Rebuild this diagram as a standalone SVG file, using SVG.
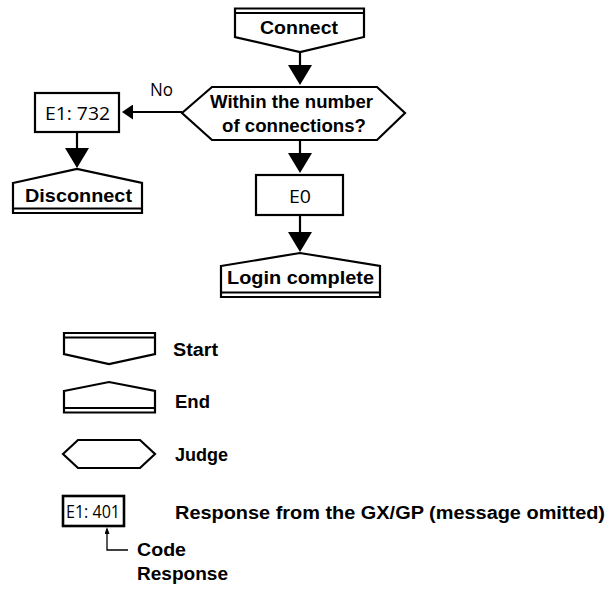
<svg xmlns="http://www.w3.org/2000/svg" width="609" height="592" viewBox="0 0 609 592">
  <defs>
    <style>
      .shape { fill: #fff; stroke: #000; stroke-width: 2.2; stroke-linejoin: miter; }
      .rule { fill: none; stroke: #000; stroke-width: 2; }
      .conn { fill: none; stroke: #000; stroke-width: 2.2; }
      .thin { fill: none; stroke: #000; stroke-width: 1.3; }
      .lbl { font-family: "Liberation Sans", Arial, sans-serif; font-weight: bold; font-size: 18px; fill: #000; }
      .code { font-family: "Open Sans", "Noto Sans", sans-serif; font-size: 18.5px; fill: #000; }
      .mid { text-anchor: middle; }
    </style>
    <marker id="head" markerUnits="userSpaceOnUse" viewBox="0 0 20 24" markerWidth="20" markerHeight="24" refX="0" refY="12" orient="auto">
      <path d="M0,0 L20,12 L0,24 Z" fill="#000"/>
    </marker>
    <marker id="headSide" markerUnits="userSpaceOnUse" viewBox="0 0 11 15" markerWidth="11" markerHeight="15" refX="0" refY="7.5" orient="auto">
      <path d="M0,0 L11,7.5 L0,15 Z" fill="#000"/>
    </marker>
    <marker id="headTiny" markerUnits="userSpaceOnUse" viewBox="0 0 7 5" markerWidth="7" markerHeight="5" refX="0" refY="2.5" orient="auto">
      <path d="M0,0 L7,2.5 L0,5 Z" fill="#000"/>
    </marker>
  </defs>

  <rect width="609" height="592" fill="#fff"/>

  <!-- connectors -->
  <g id="connectors">
    <path class="conn" d="M300,52 V65" marker-end="url(#head)"/>
    <path class="conn" d="M300,140 V153" marker-end="url(#head)"/>
    <path class="conn" d="M300,215 V232" marker-end="url(#head)"/>
    <path class="conn" d="M182,112 H133" marker-end="url(#headSide)"/>
    <path class="conn" d="M77,132 V148" marker-end="url(#head)"/>
    <path class="thin" d="M128,550 H107 V534" marker-end="url(#headTiny)"/>
    <text class="code" x="150" y="96" font-size="18" textLength="23" lengthAdjust="spacingAndGlyphs">No</text>
  </g>

  <!-- start: Connect -->
  <g id="connect">
    <path class="shape" d="M235,8.5 H364 V37 L300,52 L235,37 Z"/>
    <path class="rule" d="M235,13 H364"/>
    <text class="lbl mid" x="299" y="34" textLength="78" lengthAdjust="spacingAndGlyphs">Connect</text>
  </g>

  <!-- judge: connection count -->
  <g id="judge-connections">
    <path class="shape" d="M182,113 L212,87 H377 L405,113 L377,140 H212 Z"/>
    <text class="lbl mid" x="291.5" y="108" textLength="163" lengthAdjust="spacingAndGlyphs">Within the number</text>
    <text class="lbl mid" x="294" y="132" textLength="144" lengthAdjust="spacingAndGlyphs">of connections?</text>
  </g>

  <!-- response E1: 732 -->
  <g id="e1-732">
    <rect class="shape" x="35" y="93" width="84" height="39"/>
    <text class="code mid" x="77.5" y="119.5" textLength="65" lengthAdjust="spacingAndGlyphs">E1: 732</text>
  </g>

  <!-- end: Disconnect -->
  <g id="disconnect">
    <path class="shape" d="M13,183 L77,169 L142,183 V213 H13 Z"/>
    <path class="rule" d="M13,208.5 H142"/>
    <text class="lbl mid" x="78.5" y="202" textLength="107" lengthAdjust="spacingAndGlyphs">Disconnect</text>
  </g>

  <!-- response E0 -->
  <g id="e0">
    <rect class="shape" x="256" y="175" width="87" height="40"/>
    <text class="code mid" x="300" y="203" textLength="22" lengthAdjust="spacingAndGlyphs">E0</text>
  </g>

  <!-- end: Login complete -->
  <g id="login-complete">
    <path class="shape" d="M221,266 L300,253 L380,266 V297 H221 Z"/>
    <path class="rule" d="M221,292.5 H380"/>
    <text class="lbl mid" x="300.5" y="284" textLength="147" lengthAdjust="spacingAndGlyphs">Login complete</text>
  </g>

  <!-- legend -->
  <g id="legend-start">
    <path class="shape" d="M64,333 H155 V354 L109,364 L64,354 Z"/>
    <path class="rule" d="M64,337.5 H155"/>
    <text class="lbl" x="173" y="355.5" textLength="45" lengthAdjust="spacingAndGlyphs">Start</text>
  </g>
  <g id="legend-end">
    <path class="shape" d="M64,391 L109,382 L155,391 V412.5 H64 Z"/>
    <path class="rule" d="M64,408 H155"/>
    <text class="lbl" x="175" y="408" textLength="35" lengthAdjust="spacingAndGlyphs">End</text>
  </g>
  <g id="legend-judge">
    <path class="shape" d="M63,454 L78,440 H140 L155,454 L140,468 H78 Z"/>
    <text class="lbl" x="175" y="461" textLength="53" lengthAdjust="spacingAndGlyphs">Judge</text>
  </g>
  <g id="legend-response">
    <rect class="shape" x="63" y="496" width="61" height="30" style="stroke-width:2.6"/>
    <text class="code mid" x="93" y="517.5" font-size="17" textLength="54" lengthAdjust="spacingAndGlyphs">E1: 401</text>
    <text class="lbl" x="175" y="519" textLength="430" lengthAdjust="spacingAndGlyphs">Response from the GX/GP (message omitted)</text>
    <text class="lbl" x="137" y="556" textLength="49" lengthAdjust="spacingAndGlyphs">Code</text>
    <text class="lbl" x="137" y="580" textLength="91" lengthAdjust="spacingAndGlyphs">Response</text>
  </g>
</svg>
